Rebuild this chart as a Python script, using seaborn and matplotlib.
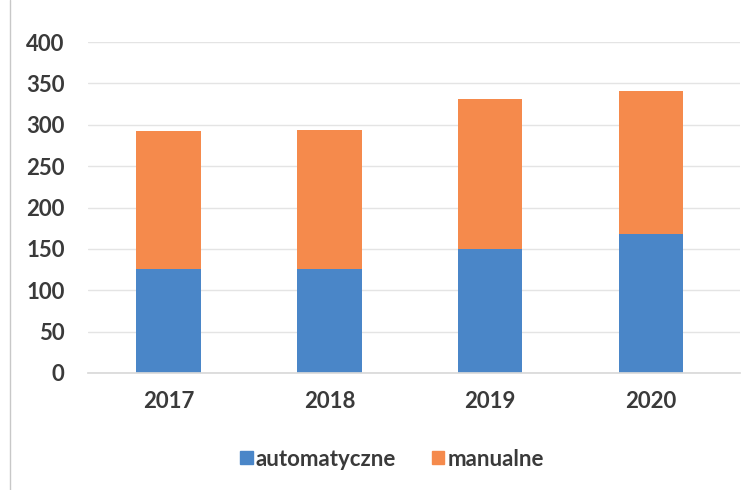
import pandas as pd
import numpy as np
import matplotlib.pyplot as plt
import seaborn as sns

# dane
lata = ["2017", "2018", "2019", "2020"]
automatyczne = [126, 126, 150, 168]
manualne = [166, 168, 181, 173]

df = pd.DataFrame({"rok": lata, "automatyczne": automatyczne, "manualne": manualne})
df["suma"] = df["automatyczne"] + df["manualne"]

sns.set_theme(style="white")
plt.rcParams["font.family"] = ["Lato", "DejaVu Sans"]
plt.rcParams["font.weight"] = "bold"

kolor_auto = "#4a86c8"
kolor_man = "#f58a4c"
kolor_tekst = "#3a3a3a"

fig = plt.figure(figsize=(7.47, 4.9), dpi=100)
ax = fig.add_axes([0.118, 0.239, 0.872, 0.675])

# słupek całkowity (manualne na górze), potem automatyczne od dołu
sns.barplot(data=df, x="rok", y="suma", color=kolor_man, width=0.4,
            saturation=1, ax=ax, linewidth=0)
sns.barplot(data=df, x="rok", y="automatyczne", color=kolor_auto, width=0.4,
            saturation=1, ax=ax, linewidth=0)

ax.set_ylim(0, 400)
ax.set_yticks(np.arange(0, 401, 50))
ax.set_xlim(-0.5, 3.55)
ax.yaxis.grid(True, color="#e4e4e4", linewidth=1)
ax.set_axisbelow(True)
for s in ["top", "right", "left"]:
    ax.spines[s].set_visible(False)
ax.spines["bottom"].set_color("#d9d9d9")
ax.set_xlabel("")
ax.set_ylabel("")
ax.tick_params(axis="both", length=0, labelsize=16, labelcolor=kolor_tekst)
ax.tick_params(axis="x", pad=13)
ax.tick_params(axis="y", pad=17)

uchwyty = [plt.Rectangle((0, 0), 1, 1, color=kolor_auto),
           plt.Rectangle((0, 0), 1, 1, color=kolor_man)]
leg = fig.legend(uchwyty, ["automatyczne", "manualne"],
                 loc="center", bbox_to_anchor=(0.525, 0.063), ncol=2, frameon=False,
                 fontsize=16, handlelength=0.55, handleheight=0.55, handletextpad=0.15,
                 columnspacing=1.6)
for t in leg.get_texts():
    t.set_color(kolor_tekst)

# cienka ramka po lewej stronie skanu
fig.add_artist(plt.Line2D([0.014, 0.014], [0.0, 1.0], color="#c8c8c8", linewidth=1))

fig.savefig("out.png", dpi=100)
